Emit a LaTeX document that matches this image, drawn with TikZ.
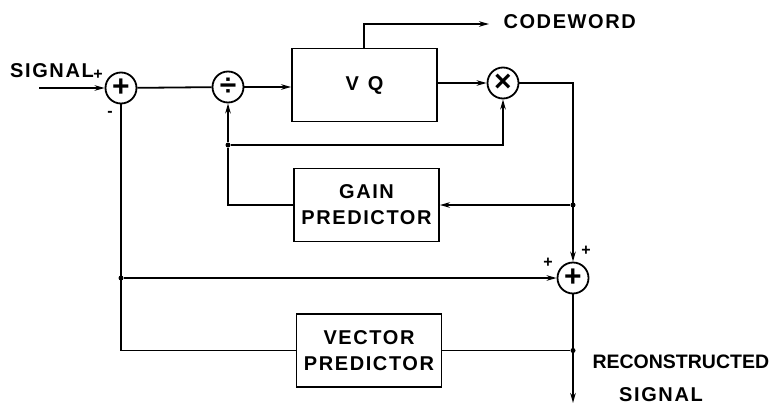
\documentclass[tikz,border=0pt]{standalone}
\usepackage{fontspec}
\setmainfont{Liberation Sans}
\usetikzlibrary{arrows.meta}

\tikzset{
  lbl/.style={font=\fontsize{20}{22}\selectfont\bfseries\addfontfeatures{LetterSpace=8}},
  block/.style={draw, line width=1.8pt, minimum width=145pt, minimum height=73pt, align=center, lbl},
  junc/.style={draw, circle, line width=1.8pt, minimum size=31pt, inner sep=0pt, font=\fontsize{30}{30}\selectfont\bfseries},
  dot/.style={circle, fill, inner sep=0pt, minimum size=5pt},
  sgn/.style={font=\fontsize{16}{16}\selectfont\bfseries, inner sep=0pt},
  wire/.style={line width=1.8pt},
  flow/.style={wire, -{Stealth[length=10pt,width=5.5pt]}}
}

\begin{document}
\begin{tikzpicture}[x=1pt, y=-1pt]
    \useasboundingbox (0,0) rectangle (771,407);
    % blocks and junctions
    \node[junc] (sumA) at (121,88) {+};
    \node[junc] (div) at (228,87) {÷};
    \node[block] (vq) at (364.5,85) {\addfontfeatures{LetterSpace=45}VQ};
    \node[junc] (mul) at (503,83) {×};
    \node[block] (gain) at (366.5,205) {GAIN\\[4pt]PREDICTOR};
    \node[junc] (sumB) at (573,278) {+};
    \node[block] (vec) at (369,350.5) {VECTOR\\[4pt]PREDICTOR};
    % free ends and branch points
    \coordinate (in) at (39,88);
    \coordinate (cwtop) at (364,24);
    \coordinate (cw) at (489,24);
    \coordinate (out) at (573,403);
    \node[dot] (fb) at (228,145) {};
    \node[dot] (gd) at (sumB |- gain) {};
    \node[dot] (vd) at (sumB |- vec) {};
    \node[dot] (ld) at (sumA |- sumB) {};
    % forward path
    \draw[flow] (in) -- (sumA);
    \draw[wire] (sumA) -- (div);
    \draw[flow] (div) -- (vq.west |- div);
    \draw[flow] (vq.east |- mul) -- (mul);
    \draw[flow] (vq.north -| cwtop) -- (cwtop) -- (cw);
    \draw[flow] (mul) -| (sumB);
    \draw[flow] (sumB) -- (out);
    % gain loop
    \draw[flow] (gd) -- (gain);
    \draw[wire] (gain) -| (fb);
    \draw[flow] (fb) -- (div);
    \draw[flow] (fb) -| (mul);
    % vector loop
    \draw[wire] (vd) -- (vec);
    \draw[wire] (vec) -| (sumA);
    \draw[flow] (ld) -- (sumB);
    % labels
    \node[lbl, anchor=west] (cwl) at (500,22) {CODEWORD};
    \node[lbl] (sigl) at (52,71) {SIGNAL};
    \node[sgn] (pA) at (98,75) {+};
    \node[sgn] (mA) at (110,114) {-};
    \node[sgn] (pB) at (586,251) {+};
    \node[sgn] (pC) at (548,263) {+};
    \node[lbl, anchor=west, font=\fontsize{19.5}{21}\selectfont\bfseries] (recl) at (589,362) {RECONSTRUCTED};
    \node[lbl] (outl) at (661,395) {SIGNAL};
\end{tikzpicture}
\end{document}
